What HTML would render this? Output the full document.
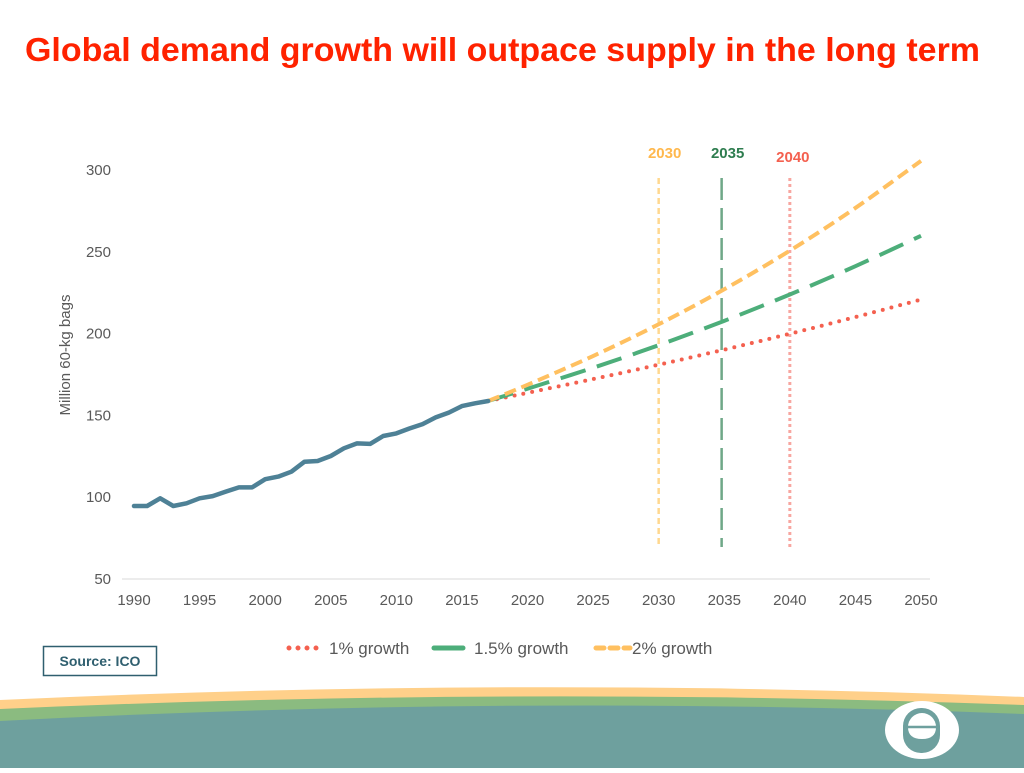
<!DOCTYPE html>
<html><head><meta charset="utf-8"><style>
body{margin:0;width:1024px;height:768px;overflow:hidden;background:#fff;font-family:"Liberation Sans",sans-serif;}
</style></head><body>
<svg width="1024" height="768" xmlns="http://www.w3.org/2000/svg">
<text x="25" y="61" font-size="33" font-weight="bold" fill="#FF2200" textLength="955" lengthAdjust="spacingAndGlyphs" font-family="Liberation Sans, sans-serif">Global demand growth will outpace supply in the long term</text>
<g id="chart"></g>
<g font-size="17" fill="#595959" font-family="Liberation Sans, sans-serif">
<line x1="289" y1="648" x2="325" y2="648" stroke="#F4604F" stroke-width="5" stroke-linecap="round" stroke-dasharray="0 9"/>
<text x="329" y="654">1% growth</text>
<line x1="434" y1="648" x2="463" y2="648" stroke="#4DAE7A" stroke-width="5" stroke-linecap="round"/>
<text x="474" y="654">1.5% growth</text>
<line x1="596" y1="648" x2="630" y2="648" stroke="#FFC060" stroke-width="5" stroke-linecap="round" stroke-dasharray="8 6"/>
<text x="632" y="654">2% growth</text>
</g>
<rect x="43.5" y="646.5" width="113" height="29" fill="#fff" stroke="#2F5F6F" stroke-width="1.5"/>
<text x="100" y="666" text-anchor="middle" font-size="14" font-weight="bold" fill="#2F5F6F">Source: ICO</text>
<path d="M0 700 Q512 676 1024 697 L1024 768 L0 768Z" fill="#FFD08A"/>
<path d="M0 709 Q512 686 1024 705 L1024 768 L0 768Z" fill="#8BBB80"/>
<path d="M0 721 Q512 694 1024 714 L1024 768 L0 768Z" fill="#6EA09E"/>
<g>
<ellipse cx="922" cy="730" rx="37" ry="29" fill="#fff"/>
<rect x="903" y="708" width="37" height="45" rx="18" fill="#6EA09E"/>
<path d="M908 727 A14 14 0 0 1 936 727 Q936 739 922 739 Q908 739 908 727Z" fill="#fff"/>
<line x1="907" y1="727" x2="937" y2="727" stroke="#6EA09E" stroke-width="2.5"/>
</g>
</svg>
<script>
const histYears=[1990,1991,1992,1993,1994,1995,1996,1997,1998,1999,2000,2001,2002,2003,2004,2005,2006,2007,2008,2009,2010,2011,2012,2013,2014,2015,2016,2017];
const histValues=[94.6,94.6,99.3,94.6,96.3,99.3,100.7,103.4,106,106,111,112.6,115.6,121.7,122.1,125.2,129.9,132.9,132.6,137.4,139,142,144.7,148.8,151.7,155.7,157.4,158.8];
const projYears=[2017,2020,2025,2030,2035,2040,2045,2050];
const growth1=[158.8,163.8,172.2,181.0,190.2,199.9,210.1,220.8];
const growth15=[158.8,166.3,179.1,192.9,207.8,223.9,241.2,259.8];
const growth2=[158.8,168.7,186.3,205.7,227.1,250.7,276.8,305.6];
const yTicks=[50,100,150,200,250,300];
const xTicks=[1990,1995,2000,2005,2010,2015,2020,2025,2030,2035,2040,2045,2050];
const markerYears=[2030,2034.8,2040];
const markerLabels=["2030","2035","2040"];
const NS="http://www.w3.org/2000/svg";
const g=document.getElementById('chart');
const X=yr=>134+(yr-1990)*(787/60);
const Y=v=>579-(v-50)*(409/250);
function mk(t,a,parent){const e=document.createElementNS(NS,t);for(const k in a)e.setAttribute(k,a[k]);(parent||g).appendChild(e);return e;}
let ax=mk('line',{x1:122,y1:579,x2:930,y2:579,stroke:'#D9D9D9','stroke-width':1});


yTicks.forEach(v=>{const t=mk('text',{x:111,y:Y(v)+5,'text-anchor':'end','font-size':15,fill:'#595959'});t.textContent=v;

});
xTicks.forEach(v=>{const t=mk('text',{x:X(v),y:605,'text-anchor':'middle','font-size':15,fill:'#595959'});t.textContent=v;

});
const yl=mk('text',{x:0,y:0,transform:'translate(70,355) rotate(-90)','text-anchor':'middle','font-size':15,fill:'#595959'});yl.textContent='Million 60-kg bags';


const mStyles=[{stroke:'#FFD88F',dash:'6 4',w:2.5,lc:'#FFB84D',ly:158},{stroke:'#6FA888',dash:'22 8',w:2.5,lc:'#2E7D4F',ly:158},{stroke:'#F8A6A0',dash:'3 3',w:3,lc:'#F4604F',ly:162}];
markerYears.forEach((yr,i)=>{const s=mStyles[i];
const l=mk('line',{x1:X(yr),y1:178,x2:X(yr),y2:547,stroke:s.stroke,'stroke-width':s.w,'stroke-dasharray':s.dash});


const t=mk('text',{x:X(yr)+(i==2?3:6),y:s.ly,'text-anchor':'middle','font-size':15,'font-weight':'bold',fill:s.lc});t.textContent=markerLabels[i];

});
function pts(xs,ys){return xs.map((x,i)=>X(x).toFixed(1)+','+Y(ys[i]).toFixed(1)).join(' ');}
function smooth(xs,ys){let d='M'+X(xs[0])+' '+Y(ys[0]);for(let i=1;i<xs.length;i++){const x0=X(xs[i-1]),y0=Y(ys[i-1]),x1=X(xs[i]),y1=Y(ys[i]);const p=i>1?[X(xs[i-2]),Y(ys[i-2])]:[x0,y0];const n=i<xs.length-1?[X(xs[i+1]),Y(ys[i+1])]:[x1,y1];d+=` C${x0+(x1-p[0])/6} ${y0+(y1-p[1])/6} ${x1-(n[0]-x0)/6} ${y1-(n[1]-y0)/6} ${x1} ${y1}`;}return d;}
const s1=mk('path',{d:smooth(projYears,growth1),fill:'none',stroke:'#F4604F','stroke-width':4,'stroke-linecap':'round','stroke-dasharray':'0 9'});


const s15=mk('path',{d:smooth(projYears,growth15),fill:'none',stroke:'#4DAE7A','stroke-width':4,'stroke-dasharray':'26 12'});


const s2=mk('path',{d:smooth(projYears,growth2),fill:'none',stroke:'#FFC060','stroke-width':4,'stroke-dasharray':'12 6'});


const h=mk('polyline',{points:pts(histYears,histValues),fill:'none',stroke:'#4E8196','stroke-width':4.5,'stroke-linejoin':'round','stroke-linecap':'round'});


</script>
</body></html>
